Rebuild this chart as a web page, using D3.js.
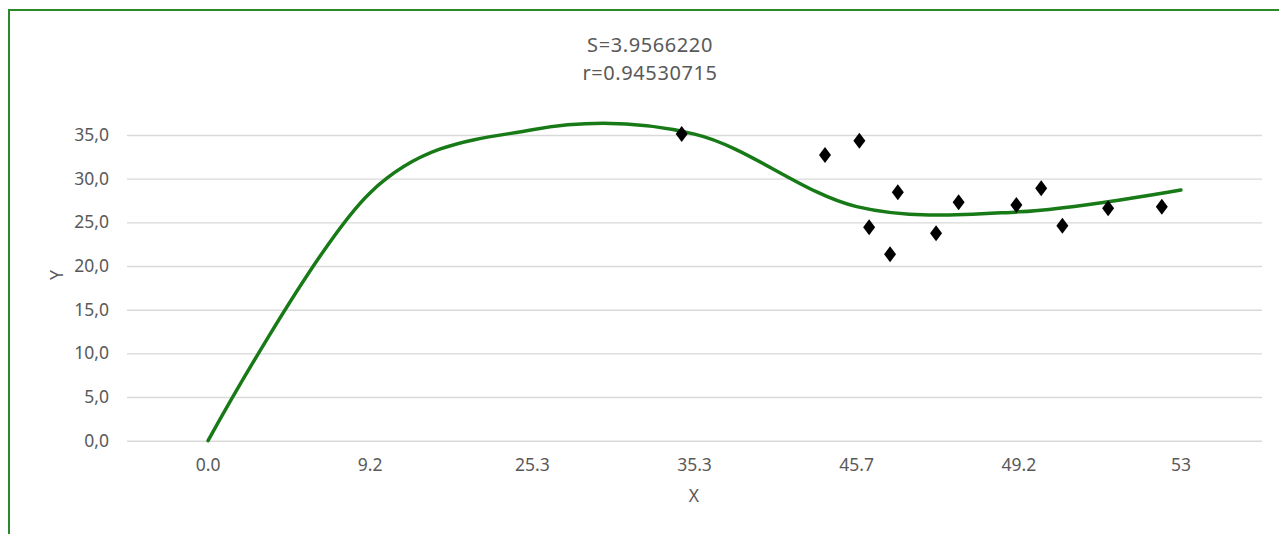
<!DOCTYPE html>
<html>
<head>
<meta charset="utf-8">
<script src="https://cdn.jsdelivr.net/npm/d3@7"></script>
<style>
  html, body { margin: 0; padding: 0; background: #fff; }
  svg { display: block; }
  text { font-family: "Noto Sans", "DejaVu Sans", sans-serif; fill: #595959; }
</style>
</head>
<body>
<svg id="chart" width="1279" height="534"></svg>
<script>
// ---- data ----
const categories = ["0.0", "9.2", "25.3", "35.3", "45.7", "49.2", "53"];
const curveValues = [0.0, 28.4, 35.6, 35.1, 26.8, 26.2, 28.7];
// scatter points, x given in category-index units (0 = first category)
const pointX = [2.921, 3.805, 4.017, 4.077, 4.206, 4.254, 4.490, 4.629, 4.985, 5.138, 5.269, 5.551, 5.882];
const pointY = [35.12, 32.71, 34.35, 24.43, 21.34, 28.44, 23.75, 27.30, 26.99, 28.90, 24.62, 26.61, 26.79];
const yTicks = [0, 5, 10, 15, 20, 25, 30, 35];
const titleLines = ["S=3.9566220", "r=0.94530715"];
const xTitle = "X";
const yTitle = "Y";

// ---- layout ----
const svg = d3.select("#chart");
const plotLeft = 127, plotRight = 1262, plotTop = 135, plotBottom = 440.7;

// frame
svg.append("rect")
  .attr("x", 9).attr("y", 10)
  .attr("width", 1300).attr("height", 600)
  .attr("fill", "none").attr("stroke", "#2a8a2a").attr("stroke-width", 2);

const xBand = d3.scaleBand().domain(categories).range([plotLeft, plotRight]);
const xIdx = d3.scaleLinear().domain([-0.5, categories.length - 0.5]).range([plotLeft, plotRight]);
const y = d3.scaleLinear().domain([0, 35]).range([plotBottom, plotTop]);

// gridlines
const yAxis = d3.axisLeft(y).tickValues(yTicks)
  .tickSize(-(plotRight - plotLeft)).tickPadding(18)
  .tickFormat(d => d3.format(".1f")(d).replace(".", ","));
const gy = svg.append("g").attr("transform", `translate(${plotLeft},0)`).call(yAxis);
gy.select(".domain").remove();
gy.selectAll(".tick line").attr("stroke", "#d9d9d9").attr("stroke-width", 1.4);
gy.selectAll(".tick text").attr("font-size", 17.5).attr("fill", "#595959")
  .attr("x", 109 - plotLeft);

// x axis labels
const xAxis = d3.axisBottom(xBand).tickSize(0).tickPadding(18);
const gx = svg.append("g").attr("transform", `translate(0,${plotBottom})`).call(xAxis);
gx.select(".domain").remove();
gx.selectAll(".tick text").attr("font-size", 17.5).attr("fill", "#595959");

// curve
const line = d3.line()
  .x((d, i) => xIdx(i))
  .y(d => y(d))
  .curve(d3.curveCardinal.tension(0));
svg.append("path")
  .datum(curveValues)
  .attr("d", line)
  .attr("fill", "none")
  .attr("stroke", "#177a17")
  .attr("stroke-width", 3.5)
  .attr("stroke-linecap", "round");

// diamonds
const pts = pointX.map((x, i) => ({ x, y: pointY[i] }));
svg.append("g").selectAll("path").data(pts).enter().append("path")
  .attr("transform", d => `translate(${xIdx(d.x)},${y(d.y)})`)
  .attr("d", "M0,-8 L6,0 L0,8 L-6,0 Z")
  .attr("fill", "#000");

// titles
svg.append("g").selectAll("text").data(titleLines).enter().append("text")
  .attr("x", 650).attr("y", (d, i) => 52 + i * 27.5)
  .attr("text-anchor", "middle").attr("font-size", 20)
  .attr("letter-spacing", 0.6)
  .text(d => d);

svg.append("text").attr("x", 694).attr("y", 502)
  .attr("text-anchor", "middle").attr("font-size", 17.5).text(xTitle);
svg.append("text")
  .attr("transform", "translate(63,275) rotate(-90)")
  .attr("text-anchor", "middle").attr("font-size", 17.5).text(yTitle);
</script>
</body>
</html>
